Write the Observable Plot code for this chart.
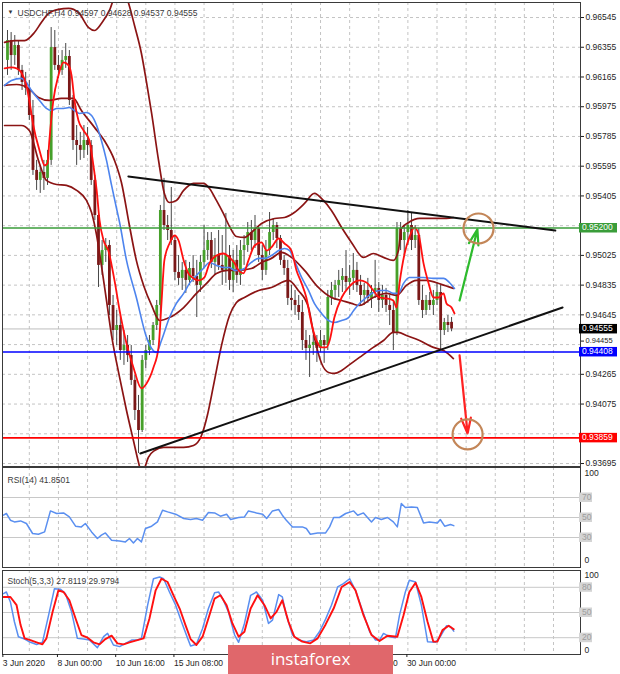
<!DOCTYPE html>
<html>
<head>
<meta charset="utf-8">
<script src="https://cdn.jsdelivr.net/npm/d3@7"></script>
<script src="https://cdn.jsdelivr.net/npm/@observablehq/plot@0.6"></script>
<style>
  html, body { margin: 0; padding: 0; background: #fff; }
  #wrap { position: relative; width: 620px; height: 674px; overflow: hidden; background: #fff; font-family: 'Liberation Sans', Arial, sans-serif; }
  #wrap svg { position: absolute; left: 0; display: block; }
  #banner { position: absolute; left: 228px; top: 645px; width: 165px; height: 29px; background: #e0676b;
    color: #fff; font-family: 'Open Sans', 'Noto Sans', sans-serif; font-size: 17px; line-height: 27px; text-align: center; }
</style>
</head>
<body>
<div id="wrap"></div>
<script>
// ---------- DATA ----------
const symbolTitle = "USDCHF,H4";
const lastBarOHLC = ["0.94597", "0.94628", "0.94537", "0.94555"];

const open = [0.96271,0.96398,0.96302,0.96366,0.96207,0.96130,0.96092,0.95919,0.95568,0.95504,
  0.95555,0.95517,0.95632,0.96353,0.96239,0.96207,0.96271,0.96296,0.96015,0.95759,
  0.95727,0.95696,0.95759,0.95727,0.95504,0.95280,0.94961,0.95056,0.95088,0.94705,
  0.94545,0.94577,0.94417,0.94449,0.94385,0.94226,0.94034,0.93906,0.94354,0.94417,
  0.94481,0.94577,0.94705,0.95312,0.95216,0.95184,0.95120,0.94916,0.94878,0.94929,
  0.94865,0.94941,0.94890,0.94833,0.94980,0.95056,0.95120,0.94980,0.95024,0.94961,
  0.94929,0.95024,0.94865,0.94993,0.94897,0.95056,0.95088,0.95171,0.95120,0.95197,
  0.95024,0.94929,0.95056,0.95171,0.95216,0.95133,0.94993,0.94941,0.94750,0.94737,
  0.94705,0.94660,0.94481,0.94430,0.94449,0.94469,0.94430,0.94481,0.94449,0.94756,
  0.94801,0.94833,0.94865,0.94890,0.94852,0.94878,0.94929,0.94833,0.94769,0.94801,
  0.94750,0.94788,0.94814,0.94737,0.94769,0.94705,0.94673,0.94532,0.95197,0.95120,
  0.95171,0.95216,0.95120,0.95152,0.94737,0.94673,0.94737,0.94705,0.94737,0.94788,
  0.94545,0.94596,0.94597];
const high = [0.96462,0.96449,0.96430,0.96398,0.96239,0.96194,0.96143,0.96015,0.95632,0.95600,
  0.95632,0.95696,0.96481,0.96462,0.96302,0.96334,0.96379,0.96334,0.96047,0.95855,
  0.95811,0.95855,0.95842,0.95759,0.95536,0.95312,0.95120,0.95133,0.95120,0.94769,
  0.94673,0.94641,0.94545,0.94513,0.94449,0.94258,0.94130,0.94385,0.94449,0.94513,
  0.94596,0.94737,0.95344,0.95517,0.95280,0.95459,0.95152,0.95024,0.94980,0.94993,
  0.94980,0.95024,0.94993,0.95024,0.95216,0.95171,0.95171,0.95133,0.95184,0.95152,
  0.95293,0.95088,0.95056,0.95088,0.95120,0.95152,0.95235,0.95248,0.95280,0.95216,
  0.95088,0.95120,0.95299,0.95261,0.95235,0.95152,0.95024,0.94993,0.94833,0.94801,
  0.94769,0.94737,0.94545,0.94513,0.94513,0.94513,0.94545,0.94513,0.94801,0.94852,
  0.94865,0.94929,0.94941,0.95056,0.94961,0.95037,0.94980,0.94897,0.94846,0.94878,
  0.94833,0.94993,0.94852,0.94833,0.94814,0.94769,0.94737,0.95235,0.95235,0.95216,
  0.95312,0.95299,0.95216,0.95197,0.94833,0.94769,0.94788,0.94801,0.94852,0.94833,
  0.94622,0.94641,0.94628];
const low = [0.96175,0.96207,0.96239,0.96175,0.96079,0.96047,0.95887,0.95536,0.95440,0.95421,
  0.95440,0.95472,0.95600,0.96207,0.96156,0.96175,0.96220,0.95983,0.95696,0.95600,
  0.95632,0.95644,0.95664,0.95472,0.95248,0.94820,0.94897,0.94980,0.94641,0.94481,
  0.94449,0.94354,0.94322,0.94341,0.94194,0.93970,0.93759,0.93893,0.94302,0.94385,
  0.94449,0.94545,0.94577,0.95184,0.95120,0.95088,0.94865,0.94833,0.94801,0.94782,
  0.94833,0.94852,0.94628,0.94788,0.94941,0.94993,0.94941,0.94897,0.94929,0.94833,
  0.94846,0.94801,0.94788,0.94846,0.94833,0.94961,0.95044,0.95056,0.95069,0.94980,
  0.94865,0.94897,0.95024,0.95120,0.95069,0.94961,0.94897,0.94705,0.94673,0.94641,
  0.94609,0.94417,0.94354,0.94245,0.94386,0.94341,0.94405,0.94335,0.94417,0.94705,
  0.94737,0.94756,0.94788,0.94801,0.94769,0.94801,0.94788,0.94705,0.94705,0.94718,
  0.94686,0.94750,0.94660,0.94686,0.94660,0.94577,0.94417,0.94513,0.95056,0.95024,
  0.95088,0.95056,0.95069,0.94705,0.94622,0.94641,0.94673,0.94641,0.94705,0.94417,
  0.94513,0.94532,0.94537];
const close = [0.96398,0.96302,0.96366,0.96207,0.96130,0.96092,0.95919,0.95568,0.95504,0.95555,
  0.95517,0.95632,0.96353,0.96239,0.96207,0.96271,0.96296,0.96015,0.95759,0.95727,
  0.95696,0.95759,0.95727,0.95504,0.95280,0.94961,0.95056,0.95088,0.94705,0.94545,
  0.94577,0.94417,0.94449,0.94385,0.94226,0.94034,0.93906,0.94354,0.94417,0.94481,
  0.94577,0.94705,0.95312,0.95216,0.95184,0.95120,0.94916,0.94878,0.94929,0.94865,
  0.94941,0.94890,0.94833,0.94980,0.95056,0.95120,0.94980,0.95024,0.94961,0.94929,
  0.95024,0.94865,0.94993,0.94897,0.95056,0.95088,0.95171,0.95120,0.95197,0.95024,
  0.94929,0.95056,0.95171,0.95216,0.95133,0.94993,0.94941,0.94750,0.94737,0.94705,
  0.94660,0.94481,0.94430,0.94449,0.94469,0.94430,0.94481,0.94449,0.94756,0.94801,
  0.94833,0.94865,0.94890,0.94852,0.94878,0.94929,0.94833,0.94769,0.94801,0.94750,
  0.94788,0.94814,0.94737,0.94769,0.94705,0.94673,0.94532,0.95197,0.95120,0.95171,
  0.95216,0.95120,0.95152,0.94737,0.94673,0.94737,0.94705,0.94737,0.94788,0.94545,
  0.94596,0.94577,0.94555];

// indicator lines: [bar index, price]
const redMA = [[-0.8,0.96220],[1.1,0.96226],[2.5,0.96220],[3.8,0.96194],[5.2,0.96111],[6,0.96015],[7.1,0.95855],[8.8,0.95696],[10.2,0.95600],[11,0.95613],[11.5,0.95759],[12.6,0.96015],[14,0.96175],[15.4,0.96258],[16.8,0.96239],[17.6,0.96175],[18.4,0.96015],[19.5,0.95887],[20.9,0.95823],[22.5,0.95759],[23.6,0.95600],[24.5,0.95440],[25.3,0.95248],[26.4,0.95120],[27.7,0.95056],[29.4,0.94865],[30.8,0.94673],[32.7,0.94462],[34.6,0.94309],[36.8,0.94175],[38.2,0.94207],[40.1,0.94309],[41.5,0.94437],[42.3,0.94718],[43.1,0.94993],[44.5,0.95101],[45.9,0.95152],[47,0.95120],[48.4,0.94993],[49.7,0.94910],[51.1,0.94878],[52.7,0.94865],[54.1,0.94884],[55.5,0.94974],[57.4,0.95024],[59.3,0.95037],[61,0.95012],[62.4,0.94974],[63.5,0.94929],[64.8,0.94910],[66.2,0.94993],[67.9,0.95088],[69.8,0.95108],[71.2,0.95056],[72.5,0.95076],[74.5,0.95133],[76.1,0.95101],[78,0.95056],[79.4,0.94929],[80.8,0.94846],[82.1,0.94756],[83.5,0.94590],[84.9,0.94481],[86.3,0.94437],[87.6,0.94437],[88.5,0.94481],[89.8,0.94628],[91.8,0.94756],[93.7,0.94820],[95.1,0.94852],[96.7,0.94865],[98.6,0.94852],[100.5,0.94801],[102.2,0.94756],[104.1,0.94750],[106,0.94737],[106.9,0.94692],[107.7,0.94846],[109.1,0.95037],[110.4,0.95140],[111.8,0.95203],[112.9,0.95165],[114.3,0.94974],[115.7,0.94846],[117,0.94756],[118.4,0.94756],[119.8,0.94782],[120.6,0.94718],[122,0.94692],[122.8,0.94654]];
const blueMA = [[-0.8,0.96111],[1.1,0.96143],[3.8,0.96156],[5.2,0.96130],[6.6,0.96079],[8.8,0.96015],[10.7,0.95964],[12.1,0.95951],[13.5,0.95964],[15.4,0.95964],[17,0.95970],[18.4,0.95951],[19.8,0.95932],[21.7,0.95938],[23.1,0.95919],[24.5,0.95855],[25.8,0.95759],[27.2,0.95632],[28.6,0.95472],[29.9,0.95331],[30.8,0.95235],[32.7,0.94993],[35.4,0.94756],[38.2,0.94501],[39.6,0.94430],[40.9,0.94405],[42.3,0.94481],[44.5,0.94628],[46.4,0.94718],[48.4,0.94782],[50,0.94846],[51.9,0.94897],[53.8,0.94941],[55.5,0.94980],[57.4,0.94961],[59.3,0.94948],[61,0.94948],[62.4,0.94929],[63.5,0.94929],[65.1,0.94941],[67,0.94980],[69,0.95006],[70.6,0.95006],[72.5,0.95024],[74.5,0.95056],[76.1,0.95069],[77.5,0.95056],[78.8,0.94993],[80.8,0.94884],[82.7,0.94801],[84.3,0.94718],[86.3,0.94654],[88.2,0.94609],[89.8,0.94596],[91.8,0.94609],[93.7,0.94628],[95.1,0.94673],[96.7,0.94718],[98.6,0.94756],[100.5,0.94788],[102.2,0.94801],[104.1,0.94801],[106,0.94782],[107.4,0.94782],[108.8,0.94846],[110.4,0.94884],[112.4,0.94884],[114.3,0.94884],[117,0.94878],[119.8,0.94878],[121.4,0.94852],[122.8,0.94814]];
const bbUpper = [[-0.8,0.96386],[2,0.96398],[4.7,0.96398],[7.4,0.96449],[9.3,0.96513],[11.3,0.96571],[14,0.96597],[16.8,0.96603],[19.5,0.96577],[22.3,0.96481],[23.9,0.96462],[25.8,0.96507],[28,0.96590],[29.9,0.96705],[31.6,0.96731],[33.2,0.96641],[34.9,0.96494],[36.8,0.96315],[38.2,0.96130],[39.6,0.95932],[41.5,0.95632],[43.1,0.95421],[44.5,0.95363],[46.4,0.95376],[48.4,0.95440],[51.1,0.95485],[53.8,0.95485],[55.5,0.95453],[57.4,0.95376],[59.3,0.95293],[61,0.95210],[62.9,0.95146],[65.1,0.95140],[67,0.95172],[69.8,0.95229],[73.4,0.95261],[76.1,0.95267],[78.8,0.95299],[81.6,0.95357],[84.3,0.95421],[86.8,0.95376],[89,0.95312],[91.8,0.95203],[94.5,0.95108],[97.8,0.95012],[100.5,0.95037],[103.3,0.95012],[106,0.94993],[107.4,0.95056],[108.2,0.95197],[110.2,0.95235],[113.2,0.95261],[117,0.95261],[120.6,0.95261],[122.5,0.95267]];
const bbMiddle = [[-0.8,0.96111],[2.5,0.96117],[5.8,0.96092],[8.5,0.96034],[11.5,0.96015],[14.8,0.96028],[18.1,0.96028],[20.3,0.95951],[23.9,0.95843],[26.6,0.95759],[29.4,0.95632],[31.3,0.95491],[33.5,0.95216],[35.4,0.94993],[37.4,0.94833],[39.6,0.94705],[41.8,0.94609],[44.5,0.94628],[48.4,0.94692],[51.9,0.94782],[54.7,0.94846],[57.4,0.94910],[60.4,0.94929],[62.9,0.94929],[67,0.94941],[69.8,0.94980],[72.5,0.95006],[75.3,0.95044],[78,0.95012],[81.6,0.94929],[85.4,0.94820],[89,0.94756],[91.8,0.94737],[94.5,0.94718],[96.7,0.94705],[100.5,0.94756],[104.1,0.94782],[106.9,0.94769],[109.6,0.94833],[112.4,0.94865],[115.1,0.94865],[119.2,0.94840],[122.5,0.94814]];
const bbLower = [[-0.8,0.95855],[3.8,0.95855],[6,0.95823],[8.5,0.95632],[10.7,0.95504],[13.5,0.95478],[16.2,0.95472],[19,0.95440],[21.7,0.95376],[23.1,0.95299],[24.5,0.95152],[25.8,0.94961],[27.2,0.94737],[28.6,0.94513],[30.8,0.94245],[32.7,0.94034],[34.6,0.93842],[36,0.93702],[36.8,0.93638],[37.6,0.93663],[38.7,0.93734],[40.4,0.93778],[42.9,0.93798],[45.6,0.93798],[48.4,0.93798],[51.1,0.93810],[53.3,0.93874],[54.9,0.94002],[56.6,0.94194],[58.8,0.94450],[61,0.94641],[62.9,0.94724],[65.1,0.94756],[69,0.94801],[72.5,0.94820],[77.2,0.94865],[79.9,0.94801],[82.7,0.94692],[84.3,0.94501],[86.3,0.94334],[88.2,0.94277],[89.8,0.94271],[91.8,0.94290],[93.7,0.94322],[96.7,0.94373],[100.5,0.94437],[103.3,0.94481],[106,0.94533],[107.4,0.94533],[109.6,0.94513],[113.2,0.94481],[117,0.94437],[119.8,0.94417],[122.5,0.94366]];

// drawn objects
const trendTop = [[33.2, 0.95529], [150.5, 0.95184]];
const trendBottom = [[36.5, 0.93759], [152.5, 0.94692]];
const levelValues = [0.95200, 0.94555, 0.94408, 0.93859];
const levelColors = ["#3a9d3a", "#000000", "#0000ff", "#ff0000"];
const arrowsUp = [{x1: 124.2, y1: 0.94737, x2: 129.1, y2: 0.95191}];
const arrowsDown = [{x1: 124.2, y1: 0.94386, x2: 126.4, y2: 0.93887}];
const targets = [{x: 129.4, y: 0.95197}, {x: 126.4, y: 0.93881}];

// axes
const priceGrid = [0.96545,0.96355,0.96165,0.95975,0.95785,0.95595,0.95405,0.95215,0.95025,0.94835,0.94645,0.94455,0.94265,0.94075,0.93885,0.93695];
const priceLabels = [0.96545,0.96355,0.96165,0.95975,0.95785,0.95595,0.95405,0.95025,0.94835,0.94645,0.94265,0.94075,0.93695];
const squeezedLabels = [0.94455];
const gridBars = [6,14,22,30,38,46,54,62,70,78,86,94,102,110,118,126,134,142,150];
const timeTickBars = [-1, 14, 30, 46, 94, 110];
const timeTickLabels = ["3 Jun 2020", "8 Jun 00:00", "10 Jun 16:00", "15 Jun 08:00", "25 Jun 08:00", "30 Jun 00:00"];

// RSI(14)
const rsiTitle = "RSI(14) 41.8501";
const rsiBars = [-1.1,-0.3,0.8,1.9,3.6,5.2,6.9,8.5,10.2,11.8,13.5,15.4,17,18.7,20.3,21.4,23.1,24.7,25.8,26.9,28.6,30.8,32.4,33.5,34.6,35.7,36.8,37.9,39.6,41.2,42.6,44,46.2,48.4,50.3,51.9,53.6,55.2,56.9,58.5,60.2,61.3,63.5,65.1,66.2,68.4,70.1,71.2,72.8,74.5,75.5,76.6,78.3,81,82.1,83.2,85.2,87.4,88.5,89.6,91.2,92.9,95.1,96.2,97.8,98.9,100,101.1,102.7,104.4,106,107.1,108.2,109.3,111,112.6,114.3,115.9,118.1,118.9,120.1,121.7,122.6];
const rsiValues = [52.3,54,47.3,45.6,46.6,44,34,33.3,35.6,56.6,54,54.6,50.6,41.3,40.6,44,35.6,29,32.3,34.6,27.3,26.6,25.6,29,24.6,29,25.6,39,41.3,45.6,57.3,55.6,53.3,49,48,49,47.3,55,54.6,51.3,53.3,48,50,50.6,56.6,54.6,53.3,49,56.6,58,52.3,47.3,40.6,40.6,39,33.3,34.6,34.6,40.6,50,50,54,56.6,52.3,54.6,50,45.6,50,48,50,45.6,40.6,64,60,60.6,60,44.6,45.6,44.6,48,41.3,43,41.85];
const rsiLevels = [70, 50, 30];

// Stochastic(5,3,3)
const stochTitle = "Stoch(5,3,3) 27.8119 29.9794";
const kBars = [-1.1,-0.3,0.8,1.9,3,4.7,6.3,8,9.6,11.3,12.9,14.6,15.9,17.6,19.2,20.9,22.5,24.7,26.4,27.5,29.1,30.8,32.4,34.1,35.7,36.8,38.5,40.1,41.8,42.9,44.5,46.2,47.8,49.5,50.3,51.9,53.6,55.2,56.9,58,59.1,60.7,62.4,63.5,65.1,66.8,68.4,70.1,71.7,72.8,74.5,75.5,76.6,78.3,79.9,82.1,84.1,85.7,87.4,89,90.7,92.3,94,95.6,97.8,99.5,101.1,102.2,103.3,104.9,106.6,107.7,109.3,110.4,112.1,113.7,115.4,117.6,118.9,120.6,121.7,122.6];
const kValues = [72.5,74.4,62.6,39,21.2,18.4,14.5,12,14.5,46.8,78.4,77.6,72.5,50.8,19.2,18.4,17.2,8.2,21.2,25.1,11.3,9.4,13.3,17.2,17.2,19.2,58.7,90.2,92.2,90.2,74.4,58.7,39,19.2,10.1,12.1,31,54.7,73.6,74.4,66.6,50.8,23.2,14.5,37,70.5,74.4,64.6,37,41,71.3,68.5,46.8,23.2,17.2,15.3,17.2,27.1,42.1,58.7,80.4,84.3,90.2,76.4,48.8,27.1,17.2,17.2,25.1,21.2,20,46.8,74.4,88.3,86.3,58.7,15.3,14.5,21.2,34.2,33,27.81];
const dBars = [-1.1,0.8,2.5,3.6,4.7,6.3,8,9.6,10.7,12.4,14,15.4,17,18.7,20.3,22,23.6,25.3,26.9,28.6,30.2,31.9,33.5,35.7,37.4,39,40.7,42.3,44,45.6,47.3,48.9,50.3,51.9,53.6,55.2,56.9,58.5,60.2,61.8,63.5,65.1,66.8,68.7,70.6,72.3,73.9,75.5,77.2,78.8,81,83.2,85.2,87.4,89.6,91.8,94,95.6,97.8,100,102.2,104.4,107.1,108.8,110.4,112.1,113.7,115.4,117,118.1,119.5,121.2,122.6];
const dValues = [68.5,68.5,58.7,35,19.2,17.2,14.5,12.1,19.2,50.8,76.4,74.4,64.6,42.9,23.2,20,14.5,12.1,18.4,22.4,13.3,12.1,14.5,17.2,19.2,42.9,76.4,90.2,86.3,70.5,54.7,35,18.4,11.3,21.2,42.9,66.6,70.5,58.7,37,21.2,27.1,54.7,70.5,58.7,42.9,50.8,64.6,39,21.2,15.3,13.3,19.2,35.8,54.7,80.4,86.3,76.4,46.8,23.2,16,22.4,21.2,46.8,74.4,85.5,68.5,39,15.3,15.3,29,34.2,29.98];
const stochLevels = [80, 50, 20];

const watermark = "instaforex";

// ---------- DRAWING ----------
const FONT = "'Liberation Sans', Arial, sans-serif";
const xDomain = [-1.37, 157.42];
const W = 620, MR = 40, ML = 2;
const gridStyle = {stroke: "#c4c4c4", strokeOpacity: 1, strokeDasharray: "3,3", strokeWidth: 1};

const candles = close.map((c, i) => ({i, open: open[i], high: high[i], low: low[i], close: c}));
const pairs = arr => arr.map(([i, p]) => ({i, p}));

function boxMark(values, colors, textColor, width, fmt) {
  return (index, scales, channels, dims) => {
    const g = d3.create("svg:g");
    const x0 = dims.width - dims.marginRight - 1;
    values.forEach((v, k) => {
      const y = scales.y(v);
      g.append("rect").attr("x", x0).attr("y", y - 4.5).attr("width", width).attr("height", 9.5)
        .attr("fill", Array.isArray(colors) ? colors[k] : colors);
      g.append("text").attr("x", x0 + 3).attr("y", y).attr("dy", "0.35em")
        .attr("text-anchor", "start")
        .attr("fill", textColor).attr("font-size", 8.5).attr("font-family", FONT).text(fmt(v));
    });
    return g.node();
  };
}

const wrap = document.getElementById("wrap");

// Main price panel
const main = Plot.plot({
  width: W, height: 468, marginLeft: ML, marginRight: MR, marginTop: 2, marginBottom: 2,
  x: {domain: xDomain, axis: null},
  y: {domain: [0.93676, 0.96641], axis: null},
  style: {fontFamily: FONT, fontSize: "8.5px", color: "#1e1e1e", background: "transparent", overflow: "visible"},
  marks: [
    Plot.gridX(gridBars, gridStyle),
    Plot.gridY(priceGrid, gridStyle),
    Plot.ruleY([levelValues[1]], {stroke: "#bdbdbd", strokeWidth: 1}),
    Plot.ruleX(candles, {x: "i", y1: "low", y2: "high", stroke: "#474747", strokeWidth: 1}),
    Plot.ruleX(candles, {x: "i", y1: "open", y2: "close", stroke: d => d.close >= d.open ? "#46a02a" : "#7a1818", strokeWidth: 2.8}),
    Plot.line(pairs(bbUpper), {x: "i", y: "p", stroke: "#8b1414", strokeWidth: 1.7, curve: "monotone-x", clip: true}),
    Plot.line(pairs(bbMiddle), {x: "i", y: "p", stroke: "#8b1414", strokeWidth: 1.7, curve: "monotone-x", clip: true}),
    Plot.line(pairs(bbLower), {x: "i", y: "p", stroke: "#8b1414", strokeWidth: 1.7, curve: "monotone-x", clip: true}),
    Plot.line(pairs(blueMA), {x: "i", y: "p", stroke: "#4d84ee", strokeWidth: 1.6, curve: "monotone-x", clip: true}),
    Plot.line(pairs(redMA), {x: "i", y: "p", stroke: "#ff1010", strokeWidth: 1.8, curve: "monotone-x", clip: true}),
    Plot.ruleY(levelValues.filter((v, k) => k !== 1), {stroke: levelColors.filter((c, k) => k !== 1), strokeWidth: 1.6}),
    Plot.line(pairs(trendTop), {x: "i", y: "p", stroke: "#111", strokeWidth: 2}),
    Plot.line(pairs(trendBottom), {x: "i", y: "p", stroke: "#111", strokeWidth: 2}),
    Plot.arrow(arrowsUp, {x1: "x1", y1: "y1", x2: "x2", y2: "y2", stroke: "#2dbb2d", strokeWidth: 2.2, headLength: 11, headAngle: 35}),
    Plot.arrow(arrowsDown, {x1: "x1", y1: "y1", x2: "x2", y2: "y2", stroke: "#ff2222", strokeWidth: 2.2, headLength: 11, headAngle: 35}),
    Plot.dot(targets, {x: "x", y: "y", r: 15, stroke: "#c38658", strokeWidth: 2.2, fill: "none"}),
    Plot.text(["\u25BC"], {frameAnchor: "top-left", dx: 5, dy: 7.5, fontSize: 6, fill: "#333", textAnchor: "start"}),
    Plot.text([`${symbolTitle} ${lastBarOHLC.join(" ")}`], {frameAnchor: "top-left", dx: 15, dy: 7.5, fontSize: 8.5, fill: "#3a3a3a", textAnchor: "start"}),
    Plot.frame({stroke: "#3a3a3a"}),
    Plot.axisY(priceLabels, {anchor: "right", tickSize: 3, tickPadding: 2, tickFormat: d => d.toFixed(5), fontSize: 8.5, label: null}),
    Plot.axisY(squeezedLabels, {anchor: "right", tickSize: 3, tickPadding: 2, tickFormat: d => d.toFixed(5), fontSize: 7.5, dy: -3.5, label: null}),
    boxMark(levelValues, levelColors, "#ffffff", 38, v => v.toFixed(5))
  ]
});
main.style.top = "0px";
wrap.appendChild(main);

// RSI panel
const rsiData = rsiBars.map((b, k) => ({i: b, v: rsiValues[k]}));
const rsi = Plot.plot({
  width: W, height: 102, marginLeft: ML, marginRight: MR, marginTop: 1, marginBottom: 1,
  x: {domain: xDomain, axis: null},
  y: {domain: [0, 100], axis: null},
  style: {fontFamily: FONT, fontSize: "8.5px", color: "#1e1e1e", background: "transparent", overflow: "visible"},
  marks: [
    Plot.gridX(gridBars, gridStyle),
    Plot.ruleY(rsiLevels, {stroke: "#c8c8c8", strokeWidth: 1}),
    Plot.line(rsiData, {x: "i", y: "v", stroke: "#5a8ff0", strokeWidth: 1.5}),
    Plot.text([rsiTitle], {frameAnchor: "top-left", dx: 5, dy: 9, fontSize: 8.5, fill: "#3a3a3a", textAnchor: "start"}),
    Plot.frame({stroke: "#3a3a3a"}),
    Plot.text(["100"], {y: [100], frameAnchor: "right", dx: 4, dy: 6, textAnchor: "start", fontSize: 8.5, fill: "#1e1e1e"}),
    Plot.text(["0"], {y: [0], frameAnchor: "right", dx: 4, dy: -7, textAnchor: "start", fontSize: 8.5, fill: "#1e1e1e"}),
    boxMark(rsiLevels, "#d4d4d4", "#9c9c9c", 13, v => String(v))
  ]
});
rsi.style.top = "466px";
wrap.appendChild(rsi);

// Stochastic panel
const kData = kBars.map((b, k) => ({i: b, v: kValues[k]}));
const dData = dBars.map((b, k) => ({i: b, v: dValues[k]}));
const tickLabel = new Map(timeTickBars.map((b, k) => [b, timeTickLabels[k]]));
const stoch = Plot.plot({
  width: W, height: 106, marginLeft: ML, marginRight: MR, marginTop: 2, marginBottom: 20,
  x: {domain: xDomain, axis: null},
  y: {domain: [0, 100], axis: null},
  style: {fontFamily: FONT, fontSize: "8.5px", color: "#1e1e1e", background: "transparent", overflow: "visible"},
  marks: [
    Plot.gridX(gridBars, gridStyle),
    Plot.ruleY(stochLevels, {stroke: "#c8c8c8", strokeWidth: 1}),
    Plot.line(kData, {x: "i", y: "v", stroke: "#5a8ff0", strokeWidth: 1.5}),
    Plot.line(dData, {x: "i", y: "v", stroke: "#ff1010", strokeWidth: 1.9}),
    Plot.text([stochTitle], {frameAnchor: "top-left", dx: 5, dy: 7.5, fontSize: 8.5, fill: "#3a3a3a", textAnchor: "start"}),
    Plot.frame({stroke: "#3a3a3a"}),
    Plot.text(["100"], {y: [100], frameAnchor: "right", dx: 4, dy: 5, textAnchor: "start", fontSize: 8.5, fill: "#1e1e1e"}),
    Plot.text(["0"], {y: [0], frameAnchor: "right", dx: 4, dy: -4, textAnchor: "start", fontSize: 8.5, fill: "#1e1e1e"}),
    boxMark(stochLevels, "#d4d4d4", "#9c9c9c", 13, v => String(v)),
    Plot.axisX(timeTickBars, {anchor: "bottom", tickSize: 3, tickPadding: 2, textAnchor: "start", dx: -1, tickFormat: d => tickLabel.get(d), fontSize: 8.5, label: null})
  ]
});
stoch.style.top = "568px";
wrap.appendChild(stoch);

// watermark banner
const banner = document.createElement("div");
banner.id = "banner";
banner.textContent = watermark;
wrap.appendChild(banner);
</script>
</body>
</html>
